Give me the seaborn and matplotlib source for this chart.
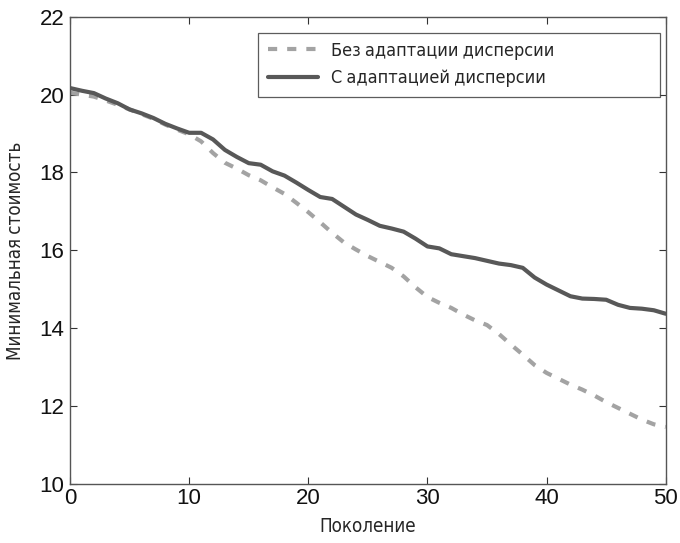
import matplotlib
matplotlib.use("Agg")
import matplotlib.pyplot as plt
import seaborn as sns
import pandas as pd
from matplotlib import font_manager
from matplotlib.font_manager import FontProperties

generations = list(range(0, 51))
no_adapt = [20.05, 20.0, 19.95, 19.85, 19.74, 19.62, 19.5, 19.38, 19.23, 19.1,
            18.98, 18.8, 18.5, 18.25, 18.1, 17.93, 17.8, 17.62, 17.45, 17.22,
            16.98, 16.72, 16.45, 16.2, 16.02, 15.85, 15.7, 15.55, 15.33, 15.05,
            14.8, 14.65, 14.52, 14.35, 14.2, 14.08, 13.85, 13.58, 13.32, 13.05,
            12.85, 12.7, 12.55, 12.42, 12.27, 12.1, 11.95, 11.8, 11.65, 11.53,
            11.46]
with_adapt = [20.17, 20.1, 20.04, 19.9, 19.78, 19.62, 19.52, 19.4, 19.25, 19.13,
              19.02, 19.02, 18.85, 18.58, 18.4, 18.24, 18.2, 18.03, 17.92, 17.74,
              17.55, 17.37, 17.32, 17.12, 16.92, 16.78, 16.63, 16.56, 16.48, 16.3,
              16.1, 16.05, 15.9, 15.85, 15.8, 15.73, 15.66, 15.62, 15.55, 15.3,
              15.12, 14.97, 14.82, 14.76, 14.75, 14.73, 14.6, 14.52, 14.5, 14.46,
              14.37]
labels = ["Без адаптации дисперсии", "С адаптацией дисперсии"]
xticks = [0, 10, 20, 30, 40, 50]
yticks = [10, 12, 14, 16, 18, 20, 22]

sns.set_theme(style="white")
plt.rcParams['font.family'] = ['Liberation Sans', 'DejaVu Sans']

cond_family = "DejaVu Sans"
for f in font_manager.fontManager.ttflist:
    if "Condensed" in f.name or "Narrow" in f.name:
        cond_family = f.name
        break

def cprops(size):
    return FontProperties(family=[cond_family, "DejaVu Sans"], stretch="condensed", size=size)

df = pd.DataFrame({
    "gen": generations * 2,
    "cost": no_adapt + with_adapt,
    "series": [labels[0]] * len(generations) + [labels[1]] * len(generations),
})

fig = plt.figure(figsize=(6.8, 5.43), dpi=100)
ax = fig.add_axes([0.103, 0.109, 0.876, 0.860])

sns.lineplot(data=df, x="gen", y="cost", hue="series", style="series",
             palette={labels[0]: "#a3a3a3", labels[1]: "#585858"},
             dashes={labels[0]: (2.2, 2.4), labels[1]: ""},
             linewidth=3.0, ax=ax, legend=True)

ax.set_xlim(0, 50)
ax.set_ylim(10, 22)
ax.set_xticks(xticks)
ax.set_yticks(yticks)
ax.tick_params(direction="in", length=5, width=0.8, colors="#333333",
               top=True, right=True, bottom=True, left=True, labelsize=16,
               labelcolor="#111111")
ax.tick_params(axis="x", pad=3)
ax.tick_params(axis="y", pad=4)
for s in ax.spines.values():
    s.set_visible(True)
    s.set_color("#555555")
    s.set_linewidth(1.0)

ax.set_xlabel("Поколение", fontproperties=cprops(13.5), labelpad=7)
ax.set_ylabel("Минимальная стоимость", fontproperties=cprops(13.5), labelpad=11)

leg = ax.legend(loc="upper left", bbox_to_anchor=(0.315, 0.0, 0.675, 0.966),
                mode="expand", frameon=True, fancybox=False, edgecolor="#333333",
                handlelength=2.8, borderpad=0.55, labelspacing=0.55,
                handletextpad=0.7, borderaxespad=0.0, prop=cprops(13))
leg.get_frame().set_linewidth(0.9)
leg.set_title(None)

fig.savefig("out.png", dpi=100, facecolor="white")
